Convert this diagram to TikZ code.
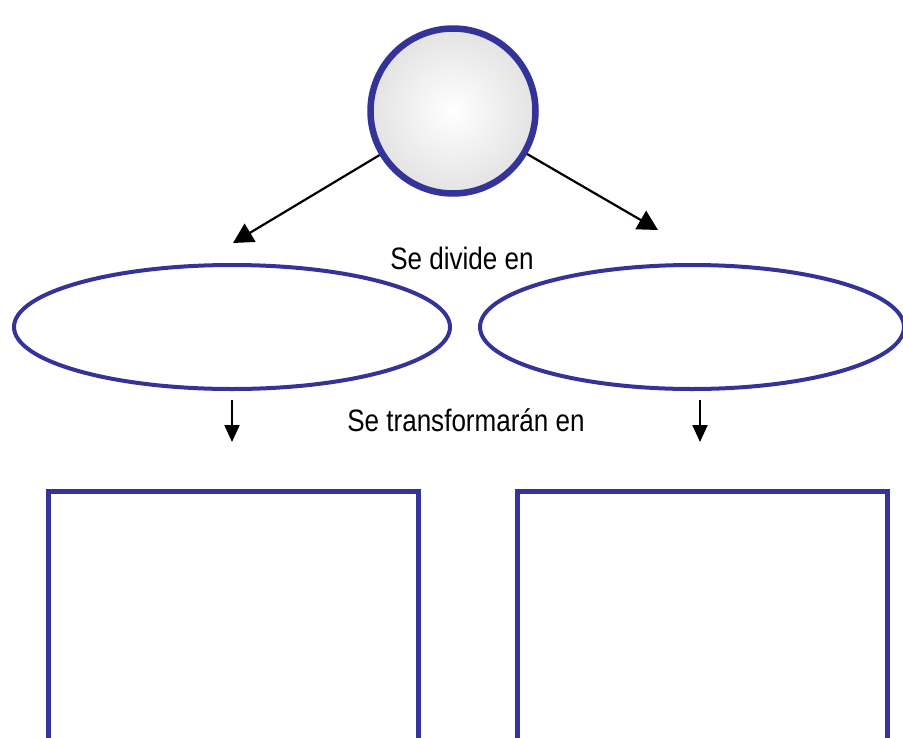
\documentclass[tikz,border=0pt]{standalone}
\usepackage{fontspec}
\newfontfamily\labelfont[FakeStretch=0.84]{Liberation Sans}
\usetikzlibrary{arrows.meta,shapes.geometric,positioning}
\definecolor{chartblue}{RGB}{51,51,153}

\tikzset{
  cellnode/.style={circle, draw=chartblue, line width=6.5pt, minimum size=165pt,
    inner sep=0pt, inner color=white, outer color=gray!22},
  partnode/.style={ellipse, draw=chartblue, line width=4pt, inner sep=0pt,
    minimum width=436pt, minimum height=124pt},
  answerbox/.style={rectangle, draw=chartblue, line width=5pt, inner sep=0pt,
    outer sep=0pt, anchor=north west, minimum width=370pt, minimum height=300pt},
  linktext/.style={font=\labelfont\fontsize{31}{36}\selectfont, inner sep=0pt},
  bigarrow/.style={line width=2.2pt, -{Triangle[length=20pt,width=21pt]}},
  smallarrow/.style={line width=2.2pt, -{Triangle[length=17pt,width=15pt]}}
}

\begin{document}
\begin{tikzpicture}[x=1pt, y=-1pt]
  \useasboundingbox (0,0) rectangle (903,737);
  \clip (0,0) rectangle (903,737);

  \node[cellnode] (cell) at (453,111) {};

  \coordinate (tipL) at (233,243);
  \coordinate (tipR) at (658,230);
  \draw[bigarrow] (cell) -- (tipL);
  \draw[bigarrow] (cell) -- (tipR);
  \node[linktext] (divide) at (462,258) {Se divide en};

  \node[partnode] (partL) at (232,327) {};
  \node[partnode, minimum width=424pt] (partR) at (692,327) {};

  % arrows down to the boxes
  \coordinate (downL) at (232,442);
  \coordinate (downR) at (700,442);
  \draw[smallarrow] (232,400) -- (downL);
  \draw[smallarrow] (700,400) -- (downR);
  \node[linktext] (transform) at (466,420) {Se transformarán en};

  \node[answerbox] (boxL) at (48,491) {};
  \node[answerbox] (boxR) at (517,491) {};
\end{tikzpicture}
\end{document}
